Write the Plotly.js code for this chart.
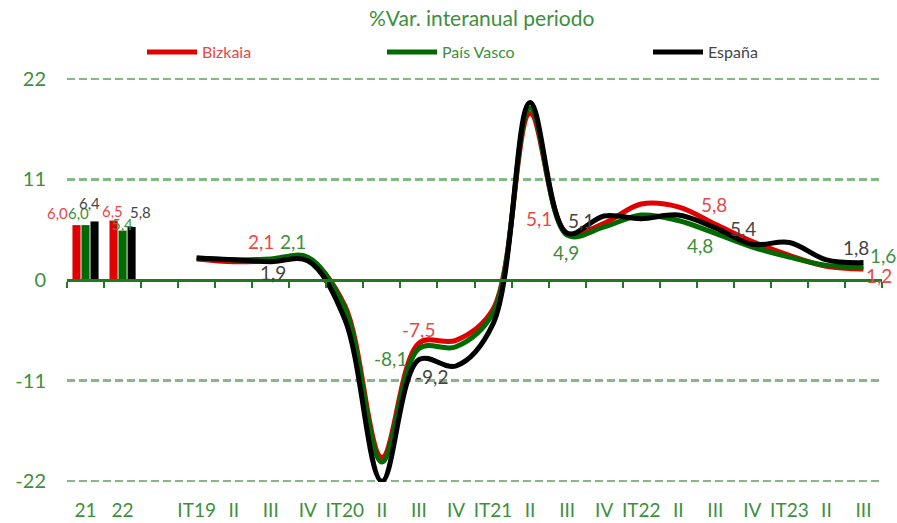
<!DOCTYPE html>
<html>
<head>
<meta charset="utf-8">
<script src="https://cdn.plot.ly/plotly-3.0.1.min.js"></script>
<style>html,body{margin:0;padding:0;background:#fff;}#chart{width:897px;height:523px;}</style>
</head>
<body>
<div id="chart"></div>
<script>
// ---- data ----
const catKeys = ["Año 21","Año 22","-",
  "2019-I","2019-II","2019-III","2019-IV",
  "2020-I","2020-II","2020-III","2020-IV",
  "2021-I","2021-II","2021-III","2021-IV",
  "2022-I","2022-II","2022-III","2022-IV",
  "2023-I","2023-II","2023-III"];
const tickLabels = ["21","22","",
  "IT19","II","III","IV",
  "IT20","II","III","IV",
  "IT21","II","III","IV",
  "IT22","II","III","IV",
  "IT23","II","III"];
const annualCats = ["Año 21","Año 22"];
const annualBizkaia = [6.0, 6.5];
const annualPaisVasco = [6.0, 5.4];
const annualEspana = [6.4, 5.8];

const quarterCats = ["2019-I","2019-II","2019-III","2019-IV",
  "2020-I","2020-II","2020-III","2020-IV",
  "2021-I","2021-II","2021-III","2021-IV",
  "2022-I","2022-II","2022-III","2022-IV",
  "2023-I","2023-II","2023-III"];
const qBizkaia   = [2.3, 2.0, 2.1, 2.3, -2.8, -19.4, -6.9, -6.6, -3.2, 18.2, 5.1, 6.2, 8.3, 8.0, 6.1, 4.2, 2.7, 1.5, 1.2];
const qPaisVasco = [2.4, 2.2, 2.3, 2.5, -3.1, -19.9, -7.5, -7.3, -3.6, 18.8, 4.9, 5.8, 7.1, 6.5, 5.1, 3.6, 2.5, 1.6, 1.45];
const qEspana    = [2.4, 2.2, 2.0, 2.1, -4.3, -22.0, -8.7, -9.4, -4.8, 19.4, 5.1, 7.0, 6.7, 7.1, 5.7, 3.9, 4.1, 2.2, 1.9];

const labelCats = ["2019-III","2020-III","2021-III","2022-III","2023-III"];
const labBizkaia   = [2.1, -7.5, 5.1, 5.8, 1.2];
const labPaisVasco = [2.1, -8.1, 4.9, 4.8, 1.6];
const labEspana    = [1.9, -9.2, 5.1, 5.4, 1.8];

const yTicks = [-22, -11, 0, 11, 22];

// ---- style ----
const RED = "#e00000", GREEN = "#006a00", BLACK = "#000000";
const RED_T = "#e84848", GREEN_T = "#3d8f3d", BLACK_T = "#444444";
const GRID = "#84b884";
const FONT = "Lato, 'Open Sans', sans-serif";

const fmt = v => v.toFixed(1).replace(".", ",");

const traces = [
  {type:"bar", x:annualCats, y:annualBizkaia, marker:{color:RED}, showlegend:false, xaxis:"x", yaxis:"y", hoverinfo:"skip"},
  {type:"bar", x:annualCats, y:annualPaisVasco, marker:{color:GREEN}, showlegend:false, xaxis:"x", yaxis:"y", hoverinfo:"skip"},
  {type:"bar", x:annualCats, y:annualEspana, marker:{color:BLACK}, showlegend:false, xaxis:"x", yaxis:"y", hoverinfo:"skip"},
  {type:"scatter", mode:"lines", name:"Bizkaia", x:quarterCats, y:qBizkaia, line:{color:RED, width:5, shape:"spline", smoothing:1}, xaxis:"x2", yaxis:"y", legend:"legend"},
  {type:"scatter", mode:"lines", name:"País Vasco", x:quarterCats, y:qPaisVasco, line:{color:GREEN, width:5, shape:"spline", smoothing:1}, xaxis:"x2", yaxis:"y", legend:"legend2"},
  {type:"scatter", mode:"lines", name:"España", x:quarterCats, y:qEspana, line:{color:BLACK, width:5, shape:"spline", smoothing:1}, xaxis:"x2", yaxis:"y", legend:"legend3"}
];

// label offsets (pixels) – styling only
const offB = [[-10,19],[0,19],[-28,15],[-1,22],[16,-6]];
const offP = [[22,19],[-28,-4],[-1,-17],[-15,-9],[20,10]];
const offE = [[2,-10],[13,-12],[14,13],[28,2],[-7,16]];
const offBarB = [[-28,12],[-10,10]];
const offBarP = [[-7,12],[0,7]];
const offBarE = [[4,18],[18,15]];

const annotations = [];
function addLabels(cats, vals, offs, color, size){
  cats.forEach((c,i)=>{
    annotations.push({x:c, y:vals[i], xref:"x", yref:"y", text:fmt(vals[i]), showarrow:false,
      xshift:offs[i][0], yshift:offs[i][1], font:{family:FONT, size:size, color:color}});
  });
}
addLabels(labelCats, labBizkaia, offB, RED_T, 19);
addLabels(labelCats, labPaisVasco, offP, GREEN_T, 19);
addLabels(labelCats, labEspana, offE, BLACK_T, 19);
addLabels(annualCats, annualBizkaia, offBarB, RED_T, 15);
addLabels(annualCats, annualPaisVasco, offBarP, GREEN_T, 15);
addLabels(annualCats, annualEspana, offBarE, BLACK_T, 15);

// edge gridlines (Plotly hides gridlines lying on the plot border)
const edgeTicks = [yTicks[0], yTicks[yTicks.length - 1]];
const shapes = edgeTicks.map(v => ({type:"line", xref:"paper", yref:"y", x0:0, x1:1, y0:v, y1:v,
  layer:"below", line:{color:GRID, width:2.5, dash:"8px,4px"}}));

const legendBase = {orientation:"h", yanchor:"middle", xanchor:"left", y:1.064, bgcolor:"rgba(0,0,0,0)", itemwidth:50};

const layout = {
  width:897, height:523,
  margin:{l:67, r:15, t:78, b:41},
  paper_bgcolor:"#fff", plot_bgcolor:"#fff",
  font:{family:FONT},
  title:{text:"%Var. interanual periodo", x:0.537, xanchor:"center", y:0.965, yanchor:"middle",
    font:{family:FONT, size:21, color:GREEN_T}},
  barmode:"group", bargap:0.27, bargroupgap:0.1,
  xaxis:{type:"category", categoryorder:"array", categoryarray:catKeys, range:[-0.5, 21.5],
    tickvals:catKeys, ticktext:tickLabels, ticks:"", showline:false, showgrid:false, zeroline:false,
    tickfont:{family:FONT, size:19, color:GREEN_T}, ticklabelstandoff:15, fixedrange:true},
  xaxis2:{type:"category", categoryorder:"array", categoryarray:catKeys, range:[-0.5, 21.5],
    overlaying:"x", anchor:"free", position:0.5, side:"bottom",
    showline:true, linecolor:"#1f7a1f", linewidth:2.5,
    ticks:"outside", tickson:"boundaries", ticklen:6, tickwidth:2, tickcolor:"#1f7a1f",
    showticklabels:false, showgrid:false, zeroline:false},
  yaxis:{range:[-22.08, 22.08], tickvals:yTicks, ticktext:yTicks.map(String),
    showgrid:true, gridcolor:GRID, gridwidth:2.5, griddash:"8px,4px",
    zeroline:false, showline:false, ticks:"",
    tickfont:{family:FONT, size:20, color:GREEN_T}, ticklabelstandoff:20},
  legend: Object.assign({}, legendBase, {x:(142-67)/815, font:{family:FONT, size:16, color:RED_T}}),
  legend2: Object.assign({}, legendBase, {x:(382-67)/815, font:{family:FONT, size:16, color:GREEN_T}}),
  legend3: Object.assign({}, legendBase, {x:(648-67)/815, font:{family:FONT, size:16, color:BLACK_T}}),
  annotations:annotations,
  shapes:shapes,
  showlegend:true
};

Plotly.newPlot("chart", traces, layout, {displayModeBar:false, staticPlot:true});
</script>
</body>
</html>
